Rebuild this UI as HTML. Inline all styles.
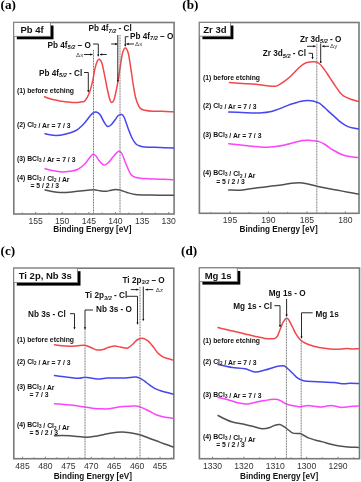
<!DOCTYPE html>
<html><head><meta charset="utf-8"><style>
html,body{margin:0;padding:0;background:#fff;width:361px;height:482px;overflow:hidden}
svg{display:block} text{-webkit-font-smoothing:antialiased} body{-webkit-font-smoothing:antialiased}
</style></head><body>
<svg style="will-change:transform" width="361" height="482" viewBox="0 0 361 482">
<rect width="361" height="482" fill="#fff"/>
<text x="0.5" y="9.3" font-size="13.2" font-weight="bold" text-anchor="start" font-family="'Liberation Serif', serif" fill="#000" >(a)</text>
<rect x="13.8" y="22.5" width="160.29999999999998" height="191.5" fill="none" stroke="#7a7a7a" stroke-width="1.6"/>
<line x1="168.7" y1="214" x2="168.7" y2="212.0" stroke="#7a7a7a" stroke-width="0.9" />
<text x="168.7" y="223.7" font-size="8.6" font-weight="normal" text-anchor="middle" font-family="'Liberation Sans', sans-serif" fill="#333" >130</text>
<line x1="155.39" y1="214" x2="155.39" y2="212.6" stroke="#7a7a7a" stroke-width="0.9" />
<line x1="142.08" y1="214" x2="142.08" y2="212.0" stroke="#7a7a7a" stroke-width="0.9" />
<text x="142.08" y="223.7" font-size="8.6" font-weight="normal" text-anchor="middle" font-family="'Liberation Sans', sans-serif" fill="#333" >135</text>
<line x1="128.77" y1="214" x2="128.77" y2="212.6" stroke="#7a7a7a" stroke-width="0.9" />
<line x1="115.46" y1="214" x2="115.46" y2="212.0" stroke="#7a7a7a" stroke-width="0.9" />
<text x="115.46" y="223.7" font-size="8.6" font-weight="normal" text-anchor="middle" font-family="'Liberation Sans', sans-serif" fill="#333" >140</text>
<line x1="102.15" y1="214" x2="102.15" y2="212.6" stroke="#7a7a7a" stroke-width="0.9" />
<line x1="88.84" y1="214" x2="88.84" y2="212.0" stroke="#7a7a7a" stroke-width="0.9" />
<text x="88.84" y="223.7" font-size="8.6" font-weight="normal" text-anchor="middle" font-family="'Liberation Sans', sans-serif" fill="#333" >145</text>
<line x1="75.53" y1="214" x2="75.53" y2="212.6" stroke="#7a7a7a" stroke-width="0.9" />
<line x1="62.22" y1="214" x2="62.22" y2="212.0" stroke="#7a7a7a" stroke-width="0.9" />
<text x="62.22" y="223.7" font-size="8.6" font-weight="normal" text-anchor="middle" font-family="'Liberation Sans', sans-serif" fill="#333" >150</text>
<line x1="48.91" y1="214" x2="48.91" y2="212.6" stroke="#7a7a7a" stroke-width="0.9" />
<line x1="35.6" y1="214" x2="35.6" y2="212.0" stroke="#7a7a7a" stroke-width="0.9" />
<text x="35.6" y="223.7" font-size="8.6" font-weight="normal" text-anchor="middle" font-family="'Liberation Sans', sans-serif" fill="#333" >155</text>
<line x1="22.29" y1="214" x2="22.29" y2="212.6" stroke="#7a7a7a" stroke-width="0.9" />
<text x="53.3" y="232.1" font-size="8.2" font-weight="bold" text-anchor="start" font-family="'Liberation Sans', sans-serif" fill="#111" >Binding Energy [eV]</text>
<path d="M44.60 96.80 C45.50 97.13 48.27 98.27 50.00 98.80 C51.73 99.33 53.17 99.60 55.00 100.00 C56.83 100.40 58.92 100.87 61.00 101.20 C63.08 101.53 65.67 101.80 67.50 102.00 C69.33 102.20 70.33 102.32 72.00 102.40 C73.67 102.48 75.83 102.60 77.50 102.50 C79.17 102.40 80.75 102.08 82.00 101.80 C83.25 101.52 83.80 102.22 85.00 100.80 C86.20 99.38 87.95 96.48 89.20 93.30 C90.45 90.12 91.53 85.87 92.50 81.70 C93.47 77.53 94.17 71.78 95.00 68.30 C95.83 64.82 96.80 62.32 97.50 60.80 C98.20 59.28 98.50 58.92 99.20 59.20 C99.90 59.48 100.87 60.15 101.70 62.50 C102.53 64.85 103.23 68.72 104.20 73.30 C105.17 77.88 106.53 85.55 107.50 90.00 C108.47 94.45 109.30 97.92 110.00 100.00 C110.70 102.08 111.00 102.63 111.70 102.50 C112.40 102.37 113.23 102.25 114.20 99.20 C115.17 96.15 116.53 89.35 117.50 84.20 C118.47 79.05 119.17 73.45 120.00 68.30 C120.83 63.15 121.62 56.68 122.50 53.30 C123.38 49.92 124.33 48.00 125.30 48.00 C126.27 48.00 127.38 49.92 128.30 53.30 C129.22 56.68 129.97 63.02 130.80 68.30 C131.63 73.58 132.47 80.00 133.30 85.00 C134.13 90.00 134.68 94.47 135.80 98.30 C136.92 102.13 138.47 106.00 140.00 108.00 C141.53 110.00 142.92 109.75 145.00 110.30 C147.08 110.85 149.67 111.15 152.50 111.30 C155.33 111.45 158.50 111.12 162.00 111.20 C165.50 111.28 171.58 111.70 173.50 111.80" fill="none" stroke="#f2474b" stroke-width="1.5" stroke-linejoin="round" stroke-linecap="round"/>
<path d="M45.00 133.70 C45.83 133.88 48.17 134.50 50.00 134.80 C51.83 135.10 53.50 135.60 56.00 135.50 C58.50 135.40 61.83 134.95 65.00 134.20 C68.17 133.45 72.50 132.12 75.00 131.00 C77.50 129.88 78.33 128.92 80.00 127.50 C81.67 126.08 83.33 124.42 85.00 122.50 C86.67 120.58 88.67 117.58 90.00 116.00 C91.33 114.42 91.97 113.67 93.00 113.00 C94.03 112.33 95.03 111.75 96.20 112.00 C97.37 112.25 98.70 112.83 100.00 114.50 C101.30 116.17 102.75 120.00 104.00 122.00 C105.25 124.00 106.33 126.00 107.50 126.50 C108.67 127.00 109.75 126.08 111.00 125.00 C112.25 123.92 113.83 121.53 115.00 120.00 C116.17 118.47 116.97 116.72 118.00 115.80 C119.03 114.88 120.20 114.30 121.20 114.50 C122.20 114.70 122.75 114.42 124.00 117.00 C125.25 119.58 127.37 126.50 128.70 130.00 C130.03 133.50 130.78 135.67 132.00 138.00 C133.22 140.33 134.67 142.67 136.00 144.00 C137.33 145.33 138.50 145.50 140.00 146.00 C141.50 146.50 141.67 146.75 145.00 147.00 C148.33 147.25 155.25 147.33 160.00 147.50 C164.75 147.67 171.25 147.92 173.50 148.00" fill="none" stroke="#4646f0" stroke-width="1.5" stroke-linejoin="round" stroke-linecap="round"/>
<path d="M45.00 168.70 C46.67 169.08 52.08 170.45 55.00 171.00 C57.92 171.55 60.00 171.97 62.50 172.00 C65.00 172.03 67.50 171.62 70.00 171.20 C72.50 170.78 75.00 170.75 77.50 169.50 C80.00 168.25 83.08 165.53 85.00 163.70 C86.92 161.87 87.67 160.07 89.00 158.50 C90.33 156.93 91.83 154.72 93.00 154.30 C94.17 153.88 95.00 154.97 96.00 156.00 C97.00 157.03 97.72 159.00 99.00 160.50 C100.28 162.00 102.20 164.58 103.70 165.00 C105.20 165.42 106.45 164.33 108.00 163.00 C109.55 161.67 111.22 158.97 113.00 157.00 C114.78 155.03 117.20 151.70 118.70 151.20 C120.20 150.70 120.78 151.87 122.00 154.00 C123.22 156.13 124.50 160.58 126.00 164.00 C127.50 167.42 129.33 172.25 131.00 174.50 C132.67 176.75 133.88 176.83 136.00 177.50 C138.12 178.17 139.70 178.22 143.70 178.50 C147.70 178.78 155.03 179.00 160.00 179.20 C164.97 179.40 171.25 179.62 173.50 179.70" fill="none" stroke="#fb45fb" stroke-width="1.5" stroke-linejoin="round" stroke-linecap="round"/>
<path d="M45.00 190.00 C46.17 190.25 49.50 191.08 52.00 191.50 C54.50 191.92 56.67 192.42 60.00 192.50 C63.33 192.58 67.83 192.33 72.00 192.00 C76.17 191.67 81.37 190.87 85.00 190.50 C88.63 190.13 91.30 189.75 93.80 189.80 C96.30 189.85 97.92 190.55 100.00 190.80 C102.08 191.05 104.47 191.40 106.30 191.30 C108.13 191.20 109.47 190.52 111.00 190.20 C112.53 189.88 114.00 189.43 115.50 189.40 C117.00 189.37 118.08 189.48 120.00 190.00 C121.92 190.52 124.43 191.77 127.00 192.50 C129.57 193.23 131.57 193.98 135.40 194.40 C139.23 194.82 143.65 194.85 150.00 195.00 C156.35 195.15 169.58 195.25 173.50 195.30" fill="none" stroke="#505050" stroke-width="1.5" stroke-linejoin="round" stroke-linecap="round"/>
<line x1="93.5" y1="50" x2="93.5" y2="214" stroke="#6e6e6e" stroke-width="1.0" stroke-dasharray="1 0.6"/>
<line x1="120" y1="35" x2="120" y2="214" stroke="#6e6e6e" stroke-width="1.0" stroke-dasharray="1 0.6"/>
<text x="17" y="92.5" font-size="6.8" font-weight="bold" text-anchor="start" font-family="'Liberation Sans', sans-serif" fill="#111" >(1) before etching</text>
<text x="17" y="127" font-size="6.8" font-weight="bold" text-anchor="start" font-family="'Liberation Sans', sans-serif" fill="#111" >(2) Cl<tspan font-size="4.6" dy="1.3">2</tspan><tspan dy="-1.3"></tspan> / Ar = 7 / 3</text>
<text x="17" y="160.5" font-size="6.8" font-weight="bold" text-anchor="start" font-family="'Liberation Sans', sans-serif" fill="#111" >(3) BCl<tspan font-size="4.6" dy="1.3">3</tspan><tspan dy="-1.3"></tspan> / Ar = 7 / 3</text>
<text x="17" y="179.5" font-size="6.8" font-weight="bold" text-anchor="start" font-family="'Liberation Sans', sans-serif" fill="#111" >(4) BCl<tspan font-size="4.6" dy="1.3">3</tspan><tspan dy="-1.3"></tspan> / Cl<tspan font-size="4.6" dy="1.3">2</tspan><tspan dy="-1.3"></tspan> / Ar</text>
<text x="30.5" y="187.5" font-size="6.8" font-weight="bold" text-anchor="start" font-family="'Liberation Sans', sans-serif" fill="#111" >= 5 / 2 / 3</text>
<rect x="16.8" y="25.5" width="36.7" height="13.799999999999997" fill="#000"/>
<rect x="13.8" y="22.5" width="36.7" height="13.799999999999997" fill="#fff" stroke="#7a7a7a" stroke-width="0.8"/>
<text x="20.5" y="33.1" font-size="9.5" font-weight="bold" text-anchor="start" font-family="'Liberation Sans', sans-serif" fill="#111" >Pb 4f</text>
<text x="47.5" y="47.5" font-size="8.2" font-weight="bold" text-anchor="start" font-family="'Liberation Sans', sans-serif" fill="#111" >Pb 4f<tspan font-size="5.6" font-style="italic" dy="1.3">5/2</tspan><tspan dy="-1.3"> </tspan>– O</text>
<path d="M93.00 44.00 L98.30 44.00 L98.30 56.00" fill="none" stroke="#111" stroke-width="0.9"/>
<path d="M98.3 56.8 L97.2 54.6 L99.39999999999999 54.6 Z" fill="#111"/>
<text x="76" y="56.5" font-size="6.2" font-weight="normal" text-anchor="start" font-family="'Liberation Sans', sans-serif" fill="#3a3a3a" >Δx</text>
<line x1="84" y1="54.5" x2="92.5" y2="54.5" stroke="#111" stroke-width="0.9" />
<path d="M92.5 54.5 L90.3 53.3 L90.3 55.7 Z" fill="#111"/>
<line x1="106.7" y1="54.5" x2="100" y2="54.5" stroke="#111" stroke-width="0.9" />
<path d="M100 54.5 L102.2 53.3 L102.2 55.7 Z" fill="#111"/>
<text x="39" y="75.8" font-size="8.2" font-weight="bold" text-anchor="start" font-family="'Liberation Sans', sans-serif" fill="#111" >Pb 4f<tspan font-size="5.6" font-style="italic" dy="1.3">5/2</tspan><tspan dy="-1.3"> </tspan>- Cl</text>
<path d="M84.00 72.50 L88.30 72.50 L88.30 91.60" fill="none" stroke="#111" stroke-width="0.9"/>
<path d="M88.3 92.39999999999999 L87.2 90.19999999999999 L89.39999999999999 90.19999999999999 Z" fill="#111"/>
<text x="88.5" y="31.4" font-size="8.2" font-weight="bold" text-anchor="start" font-family="'Liberation Sans', sans-serif" fill="#111" >Pb 4f<tspan font-size="5.6" font-style="italic" dy="1.3">7/2</tspan><tspan dy="-1.3"> </tspan>- Cl</text>
<line x1="117.8" y1="35" x2="117.8" y2="80.5" stroke="#111" stroke-width="0.9" />
<circle cx="117.8" cy="80.8" r="0.9" fill="#111"/>
<line x1="111.2" y1="44" x2="117.3" y2="44" stroke="#111" stroke-width="0.9" />
<path d="M117.3 44 L115.1 42.8 L115.1 45.2 Z" fill="#111"/>
<text x="130" y="38.7" font-size="8.2" font-weight="bold" text-anchor="start" font-family="'Liberation Sans', sans-serif" fill="#111" >Pb 4f<tspan font-size="5.6" font-style="italic" dy="1.3">7/2</tspan><tspan dy="-1.3"> </tspan>– O</text>
<path d="M128.50 36.70 L125.30 36.70 L125.30 46.00" fill="none" stroke="#111" stroke-width="0.9"/>
<path d="M125.3 46.8 L124.2 44.6 L126.39999999999999 44.6 Z" fill="#111"/>
<line x1="134" y1="44" x2="126.5" y2="44" stroke="#111" stroke-width="0.9" />
<path d="M126.5 44 L128.7 42.8 L128.7 45.2 Z" fill="#111"/>
<text x="135" y="46.3" font-size="6.2" font-weight="normal" text-anchor="start" font-family="'Liberation Sans', sans-serif" fill="#3a3a3a" >Δx</text>
<text x="182.3" y="9.3" font-size="13.2" font-weight="bold" text-anchor="start" font-family="'Liberation Serif', serif" fill="#000" >(b)</text>
<rect x="199.4" y="22.5" width="159.6" height="190.8" fill="none" stroke="#7a7a7a" stroke-width="1.6"/>
<line x1="345.35" y1="213.3" x2="345.35" y2="211.3" stroke="#7a7a7a" stroke-width="0.9" />
<text x="345.35" y="223.3" font-size="8.6" font-weight="normal" text-anchor="middle" font-family="'Liberation Sans', sans-serif" fill="#333" >180</text>
<line x1="326.12" y1="213.3" x2="326.12" y2="211.9" stroke="#7a7a7a" stroke-width="0.9" />
<line x1="306.9" y1="213.3" x2="306.9" y2="211.3" stroke="#7a7a7a" stroke-width="0.9" />
<text x="306.9" y="223.3" font-size="8.6" font-weight="normal" text-anchor="middle" font-family="'Liberation Sans', sans-serif" fill="#333" >185</text>
<line x1="287.68" y1="213.3" x2="287.68" y2="211.9" stroke="#7a7a7a" stroke-width="0.9" />
<line x1="268.45" y1="213.3" x2="268.45" y2="211.3" stroke="#7a7a7a" stroke-width="0.9" />
<text x="268.45" y="223.3" font-size="8.6" font-weight="normal" text-anchor="middle" font-family="'Liberation Sans', sans-serif" fill="#333" >190</text>
<line x1="249.22" y1="213.3" x2="249.22" y2="211.9" stroke="#7a7a7a" stroke-width="0.9" />
<line x1="230.0" y1="213.3" x2="230.0" y2="211.3" stroke="#7a7a7a" stroke-width="0.9" />
<text x="230.0" y="223.3" font-size="8.6" font-weight="normal" text-anchor="middle" font-family="'Liberation Sans', sans-serif" fill="#333" >195</text>
<line x1="210.78" y1="213.3" x2="210.78" y2="211.9" stroke="#7a7a7a" stroke-width="0.9" />
<text x="239.5" y="231.6" font-size="8.2" font-weight="bold" text-anchor="start" font-family="'Liberation Sans', sans-serif" fill="#111" >Binding Energy [eV]</text>
<path d="M229.50 82.50 C231.75 82.67 238.33 83.17 243.00 83.50 C247.67 83.83 253.83 84.17 257.50 84.50 C261.17 84.83 262.08 85.22 265.00 85.50 C267.92 85.78 272.50 86.42 275.00 86.20 C277.50 85.98 278.33 85.10 280.00 84.20 C281.67 83.30 283.33 82.05 285.00 80.80 C286.67 79.55 288.33 78.22 290.00 76.70 C291.67 75.18 293.33 73.37 295.00 71.70 C296.67 70.03 298.33 68.10 300.00 66.70 C301.67 65.30 303.33 64.08 305.00 63.30 C306.67 62.52 308.47 62.25 310.00 62.00 C311.53 61.75 312.67 61.55 314.20 61.80 C315.73 62.05 317.55 62.28 319.20 63.50 C320.85 64.72 322.33 66.75 324.10 69.10 C325.87 71.45 327.92 74.77 329.80 77.60 C331.68 80.43 333.63 83.52 335.40 86.10 C337.17 88.68 338.98 91.42 340.40 93.10 C341.82 94.78 342.38 95.25 343.90 96.20 C345.42 97.15 347.07 97.90 349.50 98.80 C351.93 99.70 357.00 101.13 358.50 101.60" fill="none" stroke="#f2474b" stroke-width="1.5" stroke-linejoin="round" stroke-linecap="round"/>
<path d="M228.70 112.00 C230.92 112.08 237.62 112.33 242.00 112.50 C246.38 112.67 251.67 112.95 255.00 113.00 C258.33 113.05 259.50 113.02 262.00 112.80 C264.50 112.58 267.67 112.17 270.00 111.70 C272.33 111.23 273.90 110.68 276.00 110.00 C278.10 109.32 280.27 108.52 282.60 107.60 C284.93 106.68 287.90 105.27 290.00 104.50 C292.10 103.73 293.53 103.50 295.20 103.00 C296.87 102.50 297.90 101.92 300.00 101.50 C302.10 101.08 305.63 100.58 307.80 100.50 C309.97 100.42 311.63 100.75 313.00 101.00 C314.37 101.25 314.83 101.57 316.00 102.00 C317.17 102.43 318.50 102.60 320.00 103.60 C321.50 104.60 323.33 106.50 325.00 108.00 C326.67 109.50 328.33 111.08 330.00 112.60 C331.67 114.12 333.33 115.58 335.00 117.10 C336.67 118.62 338.58 120.52 340.00 121.70 C341.42 122.88 342.17 123.38 343.50 124.20 C344.83 125.02 346.42 125.95 348.00 126.60 C349.58 127.25 351.25 127.70 353.00 128.10 C354.75 128.50 357.58 128.85 358.50 129.00" fill="none" stroke="#4646f0" stroke-width="1.5" stroke-linejoin="round" stroke-linecap="round"/>
<path d="M228.70 143.70 C231.42 144.00 239.78 144.95 245.00 145.50 C250.22 146.05 256.17 146.70 260.00 147.00 C263.83 147.30 265.50 147.38 268.00 147.30 C270.50 147.22 272.17 146.88 275.00 146.50 C277.83 146.12 281.22 145.82 285.00 145.00 C288.78 144.18 294.70 142.35 297.70 141.60 C300.70 140.85 301.12 140.72 303.00 140.50 C304.88 140.28 307.17 140.25 309.00 140.30 C310.83 140.35 312.32 140.58 314.00 140.80 C315.68 141.02 317.27 140.98 319.10 141.60 C320.93 142.22 322.68 143.10 325.00 144.50 C327.32 145.90 330.00 148.25 333.00 150.00 C336.00 151.75 340.17 153.92 343.00 155.00 C345.83 156.08 347.42 156.07 350.00 156.50 C352.58 156.93 357.08 157.42 358.50 157.60" fill="none" stroke="#fb45fb" stroke-width="1.5" stroke-linejoin="round" stroke-linecap="round"/>
<path d="M228.70 190.00 C231.00 190.00 237.28 190.42 242.50 190.00 C247.72 189.58 255.42 188.12 260.00 187.50 C264.58 186.88 266.23 186.75 270.00 186.30 C273.77 185.85 279.27 185.27 282.60 184.80 C285.93 184.33 287.27 183.85 290.00 183.50 C292.73 183.15 296.03 182.62 299.00 182.70 C301.97 182.78 304.65 183.37 307.80 184.00 C310.95 184.63 314.53 185.75 317.90 186.50 C321.27 187.25 324.65 187.87 328.00 188.50 C331.35 189.13 334.67 189.68 338.00 190.30 C341.33 190.92 344.58 191.58 348.00 192.20 C351.42 192.82 356.75 193.70 358.50 194.00" fill="none" stroke="#505050" stroke-width="1.5" stroke-linejoin="round" stroke-linecap="round"/>
<line x1="316.8" y1="43.7" x2="316.8" y2="213.3" stroke="#6e6e6e" stroke-width="1.0" stroke-dasharray="1 0.6"/>
<text x="203" y="79.5" font-size="6.8" font-weight="bold" text-anchor="start" font-family="'Liberation Sans', sans-serif" fill="#111" >(1) before etching</text>
<text x="203" y="107.7" font-size="6.8" font-weight="bold" text-anchor="start" font-family="'Liberation Sans', sans-serif" fill="#111" >(2) Cl<tspan font-size="4.6" dy="1.3">2</tspan><tspan dy="-1.3"></tspan> / Ar = 7 / 3</text>
<text x="203" y="136.8" font-size="6.8" font-weight="bold" text-anchor="start" font-family="'Liberation Sans', sans-serif" fill="#111" >(3) BCl<tspan font-size="4.6" dy="1.3">3</tspan><tspan dy="-1.3"></tspan> / Ar = 7 / 3</text>
<text x="203" y="175" font-size="6.8" font-weight="bold" text-anchor="start" font-family="'Liberation Sans', sans-serif" fill="#111" >(4) BCl<tspan font-size="4.6" dy="1.3">3</tspan><tspan dy="-1.3"></tspan> / Cl<tspan font-size="4.6" dy="1.3">2</tspan><tspan dy="-1.3"></tspan> / Ar</text>
<text x="216.2" y="183.8" font-size="6.8" font-weight="bold" text-anchor="start" font-family="'Liberation Sans', sans-serif" fill="#111" >= 5 / 2 / 3</text>
<rect x="202.4" y="25.5" width="31.0" height="13.700000000000003" fill="#000"/>
<rect x="199.4" y="22.5" width="31.0" height="13.700000000000003" fill="#fff" stroke="#7a7a7a" stroke-width="0.8"/>
<text x="203.3" y="33.3" font-size="9.5" font-weight="bold" text-anchor="start" font-family="'Liberation Sans', sans-serif" fill="#111" >Zr 3d</text>
<text x="300" y="41.5" font-size="8.2" font-weight="bold" text-anchor="start" font-family="'Liberation Sans', sans-serif" fill="#111" >Zr 3d<tspan font-size="5.6" font-style="italic" dy="1.3">5/2</tspan><tspan dy="-1.3"> </tspan>- O</text>
<text x="262.7" y="56.3" font-size="8.2" font-weight="bold" text-anchor="start" font-family="'Liberation Sans', sans-serif" fill="#111" >Zr 3d<tspan font-size="5.6" font-style="italic" dy="1.3">5/2</tspan><tspan dy="-1.3"> </tspan>- Cl</text>
<path d="M308.70 53.30 L312.50 53.30 L312.50 58.50" fill="none" stroke="#111" stroke-width="0.9"/>
<path d="M312.5 59.3 L311.4 57.1 L313.6 57.1 Z" fill="#111"/>
<line x1="307" y1="46.3" x2="315.5" y2="46.3" stroke="#111" stroke-width="0.9" />
<path d="M315.5 46.3 L313.3 45.099999999999994 L313.3 47.5 Z" fill="#111"/>
<line x1="320.7" y1="43.5" x2="320.7" y2="61.8" stroke="#111" stroke-width="0.9" />
<circle cx="320.7" cy="62" r="0.9" fill="#111"/>
<line x1="329" y1="46.3" x2="322.3" y2="46.3" stroke="#111" stroke-width="0.9" />
<path d="M322.3 46.3 L324.5 45.099999999999994 L324.5 47.5 Z" fill="#111"/>
<text x="330" y="48.3" font-size="6.2" font-weight="normal" text-anchor="start" font-family="'Liberation Sans', sans-serif" fill="#3a3a3a" >Δy</text>
<text x="0.5" y="255" font-size="13.2" font-weight="bold" text-anchor="start" font-family="'Liberation Serif', serif" fill="#000" >(c)</text>
<rect x="13.8" y="268.2" width="160.0" height="190.5" fill="none" stroke="#7a7a7a" stroke-width="1.6"/>
<line x1="171.45" y1="458.7" x2="171.45" y2="457.3" stroke="#7a7a7a" stroke-width="0.9" />
<line x1="159.99" y1="458.7" x2="159.99" y2="456.7" stroke="#7a7a7a" stroke-width="0.9" />
<text x="159.99" y="468.9" font-size="8.6" font-weight="normal" text-anchor="middle" font-family="'Liberation Sans', sans-serif" fill="#333" >455</text>
<line x1="148.53" y1="458.7" x2="148.53" y2="457.3" stroke="#7a7a7a" stroke-width="0.9" />
<line x1="137.07" y1="458.7" x2="137.07" y2="456.7" stroke="#7a7a7a" stroke-width="0.9" />
<text x="137.07" y="468.9" font-size="8.6" font-weight="normal" text-anchor="middle" font-family="'Liberation Sans', sans-serif" fill="#333" >460</text>
<line x1="125.62" y1="458.7" x2="125.62" y2="457.3" stroke="#7a7a7a" stroke-width="0.9" />
<line x1="114.16" y1="458.7" x2="114.16" y2="456.7" stroke="#7a7a7a" stroke-width="0.9" />
<text x="114.16" y="468.9" font-size="8.6" font-weight="normal" text-anchor="middle" font-family="'Liberation Sans', sans-serif" fill="#333" >465</text>
<line x1="102.7" y1="458.7" x2="102.7" y2="457.3" stroke="#7a7a7a" stroke-width="0.9" />
<line x1="91.25" y1="458.7" x2="91.25" y2="456.7" stroke="#7a7a7a" stroke-width="0.9" />
<text x="91.25" y="468.9" font-size="8.6" font-weight="normal" text-anchor="middle" font-family="'Liberation Sans', sans-serif" fill="#333" >470</text>
<line x1="79.79" y1="458.7" x2="79.79" y2="457.3" stroke="#7a7a7a" stroke-width="0.9" />
<line x1="68.33" y1="458.7" x2="68.33" y2="456.7" stroke="#7a7a7a" stroke-width="0.9" />
<text x="68.33" y="468.9" font-size="8.6" font-weight="normal" text-anchor="middle" font-family="'Liberation Sans', sans-serif" fill="#333" >475</text>
<line x1="56.87" y1="458.7" x2="56.87" y2="457.3" stroke="#7a7a7a" stroke-width="0.9" />
<line x1="45.41" y1="458.7" x2="45.41" y2="456.7" stroke="#7a7a7a" stroke-width="0.9" />
<text x="45.41" y="468.9" font-size="8.6" font-weight="normal" text-anchor="middle" font-family="'Liberation Sans', sans-serif" fill="#333" >480</text>
<line x1="33.96" y1="458.7" x2="33.96" y2="457.3" stroke="#7a7a7a" stroke-width="0.9" />
<line x1="22.5" y1="458.7" x2="22.5" y2="456.7" stroke="#7a7a7a" stroke-width="0.9" />
<text x="22.5" y="468.9" font-size="8.6" font-weight="normal" text-anchor="middle" font-family="'Liberation Sans', sans-serif" fill="#333" >485</text>
<text x="53.7" y="479.4" font-size="8.2" font-weight="bold" text-anchor="start" font-family="'Liberation Sans', sans-serif" fill="#111" >Binding Energy [eV]</text>
<path d="M54.50 344.80 C55.75 344.97 59.58 345.57 62.00 345.80 C64.42 346.03 66.50 346.20 69.00 346.20 C71.50 346.20 74.40 345.97 77.00 345.80 C79.60 345.63 82.27 344.92 84.60 345.20 C86.93 345.48 88.93 346.70 91.00 347.50 C93.07 348.30 95.00 349.67 97.00 350.00 C99.00 350.33 101.17 349.92 103.00 349.50 C104.83 349.08 106.10 348.07 108.00 347.50 C109.90 346.93 112.40 346.18 114.40 346.10 C116.40 346.02 117.97 346.63 120.00 347.00 C122.03 347.37 124.93 348.38 126.60 348.30 C128.27 348.22 128.88 347.25 130.00 346.50 C131.12 345.75 132.13 344.88 133.30 343.80 C134.47 342.72 135.53 340.92 137.00 340.00 C138.47 339.08 140.68 338.42 142.10 338.30 C143.52 338.18 144.38 338.75 145.50 339.30 C146.62 339.85 147.55 340.40 148.80 341.60 C150.05 342.80 151.53 344.65 153.00 346.50 C154.47 348.35 156.10 351.07 157.60 352.70 C159.10 354.33 160.52 355.37 162.00 356.30 C163.48 357.23 164.63 357.68 166.50 358.30 C168.37 358.92 172.08 359.72 173.20 360.00" fill="none" stroke="#f2474b" stroke-width="1.5" stroke-linejoin="round" stroke-linecap="round"/>
<path d="M54.50 375.50 C55.75 375.67 59.42 376.17 62.00 376.50 C64.58 376.83 67.20 377.20 70.00 377.50 C72.80 377.80 76.30 378.33 78.80 378.30 C81.30 378.27 82.80 377.30 85.00 377.30 C87.20 377.30 89.50 378.02 92.00 378.30 C94.50 378.58 97.53 379.03 100.00 379.00 C102.47 378.97 104.30 378.27 106.80 378.10 C109.30 377.93 112.27 378.00 115.00 378.00 C117.73 378.00 120.70 378.18 123.20 378.10 C125.70 378.02 127.83 377.68 130.00 377.50 C132.17 377.32 134.20 376.70 136.20 377.00 C138.20 377.30 140.20 378.30 142.00 379.30 C143.80 380.30 145.03 381.58 147.00 383.00 C148.97 384.42 151.63 386.55 153.80 387.80 C155.97 389.05 157.97 389.75 160.00 390.50 C162.03 391.25 163.83 391.70 166.00 392.30 C168.17 392.90 171.83 393.80 173.00 394.10" fill="none" stroke="#4646f0" stroke-width="1.5" stroke-linejoin="round" stroke-linecap="round"/>
<path d="M54.50 403.70 C55.75 403.80 59.42 404.08 62.00 404.30 C64.58 404.52 67.33 404.72 70.00 405.00 C72.67 405.28 75.50 405.67 78.00 406.00 C80.50 406.33 82.17 406.58 85.00 407.00 C87.83 407.42 92.50 408.20 95.00 408.50 C97.50 408.80 97.65 408.75 100.00 408.80 C102.35 408.85 106.43 409.02 109.10 408.80 C111.77 408.58 113.65 407.88 116.00 407.50 C118.35 407.12 120.87 406.72 123.20 406.50 C125.53 406.28 127.83 406.28 130.00 406.20 C132.17 406.12 134.20 405.77 136.20 406.00 C138.20 406.23 139.87 406.77 142.00 407.60 C144.13 408.43 146.63 409.82 149.00 411.00 C151.37 412.18 153.70 413.70 156.20 414.70 C158.70 415.70 161.20 416.42 164.00 417.00 C166.80 417.58 171.50 418.00 173.00 418.20" fill="none" stroke="#fb45fb" stroke-width="1.5" stroke-linejoin="round" stroke-linecap="round"/>
<path d="M54.50 435.80 C55.75 435.75 59.42 435.50 62.00 435.50 C64.58 435.50 67.33 435.62 70.00 435.80 C72.67 435.98 75.33 436.37 78.00 436.60 C80.67 436.83 83.17 437.25 86.00 437.20 C88.83 437.15 91.83 436.80 95.00 436.30 C98.17 435.80 101.67 434.82 105.00 434.20 C108.33 433.58 112.17 432.98 115.00 432.60 C117.83 432.22 119.50 431.87 122.00 431.90 C124.50 431.93 127.05 432.32 130.00 432.80 C132.95 433.28 136.70 433.97 139.70 434.80 C142.70 435.63 145.25 436.80 148.00 437.80 C150.75 438.80 153.53 439.80 156.20 440.80 C158.87 441.80 161.20 442.77 164.00 443.80 C166.80 444.83 171.50 446.47 173.00 447.00" fill="none" stroke="#505050" stroke-width="1.5" stroke-linejoin="round" stroke-linecap="round"/>
<line x1="85" y1="329" x2="85" y2="458.7" stroke="#6e6e6e" stroke-width="1.0" stroke-dasharray="1 0.6"/>
<line x1="140" y1="287" x2="140" y2="458.7" stroke="#6e6e6e" stroke-width="1.0" stroke-dasharray="1 0.6"/>
<text x="17" y="341.8" font-size="6.8" font-weight="bold" text-anchor="start" font-family="'Liberation Sans', sans-serif" fill="#111" >(1) before etching</text>
<text x="17" y="363.7" font-size="6.8" font-weight="bold" text-anchor="start" font-family="'Liberation Sans', sans-serif" fill="#111" >(2) Cl<tspan font-size="4.6" dy="1.3">2</tspan><tspan dy="-1.3"></tspan> / Ar = 7 / 3</text>
<text x="17" y="388.7" font-size="6.8" font-weight="bold" text-anchor="start" font-family="'Liberation Sans', sans-serif" fill="#111" >(3) BCl<tspan font-size="4.6" dy="1.3">3</tspan><tspan dy="-1.3"></tspan> / Ar</text>
<text x="29.5" y="397" font-size="6.8" font-weight="bold" text-anchor="start" font-family="'Liberation Sans', sans-serif" fill="#111" >= 7 / 3</text>
<text x="17" y="427" font-size="6.8" font-weight="bold" text-anchor="start" font-family="'Liberation Sans', sans-serif" fill="#111" >(4) BCl<tspan font-size="4.6" dy="1.3">3</tspan><tspan dy="-1.3"></tspan> / Cl<tspan font-size="4.6" dy="1.3">2</tspan><tspan dy="-1.3"></tspan> / Ar</text>
<text x="29.5" y="435" font-size="6.8" font-weight="bold" text-anchor="start" font-family="'Liberation Sans', sans-serif" fill="#111" >= 5 / 2 / 3</text>
<rect x="16.8" y="271.2" width="63.7" height="14.400000000000034" fill="#000"/>
<rect x="13.8" y="268.2" width="63.7" height="14.400000000000034" fill="#fff" stroke="#7a7a7a" stroke-width="0.8"/>
<text x="18.7" y="278.7" font-size="9.5" font-weight="bold" text-anchor="start" font-family="'Liberation Sans', sans-serif" fill="#111" >Ti 2p, Nb 3s</text>
<text x="122.5" y="283" font-size="8.2" font-weight="bold" text-anchor="start" font-family="'Liberation Sans', sans-serif" fill="#111" >Ti 2p<tspan font-size="5.6" font-style="italic" dy="1.3">3/2</tspan><tspan dy="-1.3"> </tspan>– O</text>
<line x1="130.8" y1="289.6" x2="138.5" y2="289.6" stroke="#111" stroke-width="0.9" />
<path d="M138.5 289.6 L136.3 288.40000000000003 L136.3 290.8 Z" fill="#111"/>
<line x1="143.3" y1="286.7" x2="143.3" y2="319.5" stroke="#111" stroke-width="0.9" />
<circle cx="143.3" cy="319.7" r="0.9" fill="#111"/>
<line x1="153.3" y1="289.6" x2="145.5" y2="289.6" stroke="#111" stroke-width="0.9" />
<path d="M145.5 289.6 L147.7 288.40000000000003 L147.7 290.8 Z" fill="#111"/>
<text x="155.8" y="291.8" font-size="6.2" font-weight="normal" text-anchor="start" font-family="'Liberation Sans', sans-serif" fill="#3a3a3a" >Δz</text>
<text x="85" y="298.3" font-size="8.2" font-weight="bold" text-anchor="start" font-family="'Liberation Sans', sans-serif" fill="#111" >Ti 2p<tspan font-size="5.6" font-style="italic" dy="1.3">3/2</tspan><tspan dy="-1.3"> </tspan>- Cl</text>
<path d="M126.70 296.30 L137.50 296.30 L137.50 324.00" fill="none" stroke="#111" stroke-width="0.9"/>
<path d="M137.5 324.8 L136.4 322.6 L138.6 322.6 Z" fill="#111"/>
<text x="96" y="312" font-size="8.2" font-weight="bold" text-anchor="start" font-family="'Liberation Sans', sans-serif" fill="#111" >Nb 3s - O</text>
<path d="M93.00 310.00 L85.00 310.00 L85.00 328.70" fill="none" stroke="#111" stroke-width="0.9"/>
<path d="M85 329.5 L83.9 327.3 L86.1 327.3 Z" fill="#111"/>
<text x="28" y="317" font-size="8.2" font-weight="bold" text-anchor="start" font-family="'Liberation Sans', sans-serif" fill="#111" >Nb 3s - Cl</text>
<path d="M70.00 313.70 L74.50 313.70 L74.50 328.70" fill="none" stroke="#111" stroke-width="0.9"/>
<path d="M74.5 329.5 L73.4 327.3 L75.6 327.3 Z" fill="#111"/>
<text x="181" y="255" font-size="13.2" font-weight="bold" text-anchor="start" font-family="'Liberation Serif', serif" fill="#000" >(d)</text>
<rect x="199.4" y="268" width="160.1" height="190.7" fill="none" stroke="#7a7a7a" stroke-width="1.6"/>
<line x1="353.69" y1="458.7" x2="353.69" y2="457.3" stroke="#7a7a7a" stroke-width="0.9" />
<line x1="338.0" y1="458.7" x2="338.0" y2="456.7" stroke="#7a7a7a" stroke-width="0.9" />
<text x="338.0" y="468.9" font-size="8.6" font-weight="normal" text-anchor="middle" font-family="'Liberation Sans', sans-serif" fill="#333" >1290</text>
<line x1="322.31" y1="458.7" x2="322.31" y2="457.3" stroke="#7a7a7a" stroke-width="0.9" />
<line x1="306.62" y1="458.7" x2="306.62" y2="456.7" stroke="#7a7a7a" stroke-width="0.9" />
<text x="306.62" y="468.9" font-size="8.6" font-weight="normal" text-anchor="middle" font-family="'Liberation Sans', sans-serif" fill="#333" >1300</text>
<line x1="290.94" y1="458.7" x2="290.94" y2="457.3" stroke="#7a7a7a" stroke-width="0.9" />
<line x1="275.25" y1="458.7" x2="275.25" y2="456.7" stroke="#7a7a7a" stroke-width="0.9" />
<text x="275.25" y="468.9" font-size="8.6" font-weight="normal" text-anchor="middle" font-family="'Liberation Sans', sans-serif" fill="#333" >1310</text>
<line x1="259.56" y1="458.7" x2="259.56" y2="457.3" stroke="#7a7a7a" stroke-width="0.9" />
<line x1="243.88" y1="458.7" x2="243.88" y2="456.7" stroke="#7a7a7a" stroke-width="0.9" />
<text x="243.88" y="468.9" font-size="8.6" font-weight="normal" text-anchor="middle" font-family="'Liberation Sans', sans-serif" fill="#333" >1320</text>
<line x1="228.19" y1="458.7" x2="228.19" y2="457.3" stroke="#7a7a7a" stroke-width="0.9" />
<line x1="212.5" y1="458.7" x2="212.5" y2="456.7" stroke="#7a7a7a" stroke-width="0.9" />
<text x="212.5" y="468.9" font-size="8.6" font-weight="normal" text-anchor="middle" font-family="'Liberation Sans', sans-serif" fill="#333" >1330</text>
<text x="240" y="479.2" font-size="8.2" font-weight="bold" text-anchor="start" font-family="'Liberation Sans', sans-serif" fill="#111" >Binding Energy [eV]</text>
<path d="M218.00 327.60 C219.17 327.88 222.58 328.73 225.00 329.30 C227.42 329.87 230.00 330.42 232.50 331.00 C235.00 331.58 237.25 332.17 240.00 332.80 C242.75 333.43 246.17 334.13 249.00 334.80 C251.83 335.47 254.33 336.20 257.00 336.80 C259.67 337.40 262.42 338.08 265.00 338.40 C267.58 338.72 270.83 338.70 272.50 338.70 C274.17 338.70 274.17 338.82 275.00 338.40 C275.83 337.98 276.70 337.57 277.50 336.20 C278.30 334.83 279.13 331.90 279.80 330.20 C280.47 328.50 280.92 327.38 281.50 326.00 C282.08 324.62 282.48 323.18 283.30 321.90 C284.12 320.62 285.53 318.70 286.40 318.30 C287.27 317.90 287.82 318.70 288.50 319.50 C289.18 320.30 289.75 321.68 290.50 323.10 C291.25 324.52 292.22 326.42 293.00 328.00 C293.78 329.58 294.37 331.10 295.20 332.60 C296.03 334.10 297.00 335.68 298.00 337.00 C299.00 338.32 300.03 339.50 301.20 340.50 C302.37 341.50 303.42 342.22 305.00 343.00 C306.58 343.78 308.87 344.57 310.70 345.20 C312.53 345.83 314.02 346.32 316.00 346.80 C317.98 347.28 320.27 347.73 322.60 348.10 C324.93 348.47 327.62 348.80 330.00 349.00 C332.38 349.20 334.17 349.37 336.90 349.30 C339.63 349.23 343.88 348.65 346.40 348.60 C348.92 348.55 349.98 348.97 352.00 349.00 C354.02 349.03 357.42 348.83 358.50 348.80" fill="none" stroke="#f2474b" stroke-width="1.5" stroke-linejoin="round" stroke-linecap="round"/>
<path d="M218.00 364.50 C219.17 364.75 222.58 365.50 225.00 366.00 C227.42 366.50 229.17 367.05 232.50 367.50 C235.83 367.95 241.25 367.95 245.00 368.70 C248.75 369.45 251.67 371.78 255.00 372.00 C258.33 372.22 261.67 370.83 265.00 370.00 C268.33 369.17 272.50 367.67 275.00 367.00 C277.50 366.33 278.42 366.17 280.00 366.00 C281.58 365.83 283.25 365.58 284.50 366.00 C285.75 366.42 286.50 367.63 287.50 368.50 C288.50 369.37 289.02 369.77 290.50 371.20 C291.98 372.63 294.82 375.75 296.40 377.10 C297.98 378.45 298.80 378.70 300.00 379.30 C301.20 379.90 301.60 380.33 303.60 380.70 C305.60 381.07 308.83 381.30 312.00 381.50 C315.17 381.70 318.93 381.72 322.60 381.90 C326.27 382.08 330.43 382.28 334.00 382.60 C337.57 382.92 341.33 383.70 344.00 383.80 C346.67 383.90 347.58 383.23 350.00 383.20 C352.42 383.17 357.08 383.53 358.50 383.60" fill="none" stroke="#4646f0" stroke-width="1.5" stroke-linejoin="round" stroke-linecap="round"/>
<path d="M218.00 397.40 C219.17 397.67 222.67 398.40 225.00 399.00 C227.33 399.60 229.83 400.37 232.00 401.00 C234.17 401.63 235.83 402.30 238.00 402.80 C240.17 403.30 242.83 403.90 245.00 404.00 C247.17 404.10 248.83 403.78 251.00 403.40 C253.17 403.02 255.67 402.18 258.00 401.70 C260.33 401.22 262.83 400.87 265.00 400.50 C267.17 400.13 268.92 399.67 271.00 399.50 C273.08 399.33 275.67 399.17 277.50 399.50 C279.33 399.83 280.52 400.75 282.00 401.50 C283.48 402.25 284.73 403.33 286.40 404.00 C288.07 404.67 289.93 405.05 292.00 405.50 C294.07 405.95 296.97 406.57 298.80 406.70 C300.63 406.83 301.42 406.50 303.00 406.30 C304.58 406.10 306.47 405.50 308.30 405.50 C310.13 405.50 312.02 406.03 314.00 406.30 C315.98 406.57 318.37 407.07 320.20 407.10 C322.03 407.13 323.20 406.77 325.00 406.50 C326.80 406.23 329.17 405.53 331.00 405.50 C332.83 405.47 334.22 405.98 336.00 406.30 C337.78 406.62 339.37 407.37 341.70 407.40 C344.03 407.43 347.20 406.73 350.00 406.50 C352.80 406.27 357.08 406.08 358.50 406.00" fill="none" stroke="#fb45fb" stroke-width="1.5" stroke-linejoin="round" stroke-linecap="round"/>
<path d="M218.00 415.50 C219.17 416.08 222.58 417.92 225.00 419.00 C227.42 420.08 229.17 421.08 232.50 422.00 C235.83 422.92 241.25 423.67 245.00 424.50 C248.75 425.33 252.08 426.30 255.00 427.00 C257.92 427.70 260.00 428.62 262.50 428.70 C265.00 428.78 267.92 428.08 270.00 427.50 C272.08 426.92 273.37 425.70 275.00 425.20 C276.63 424.70 278.22 424.22 279.80 424.50 C281.38 424.78 283.05 425.98 284.50 426.90 C285.95 427.82 287.10 428.97 288.50 430.00 C289.90 431.03 290.98 432.50 292.90 433.10 C294.82 433.70 298.15 433.20 300.00 433.60 C301.85 434.00 302.62 434.78 304.00 435.50 C305.38 436.22 306.47 437.15 308.30 437.90 C310.13 438.65 312.62 439.33 315.00 440.00 C317.38 440.67 320.10 441.23 322.60 441.90 C325.10 442.57 327.22 443.32 330.00 444.00 C332.78 444.68 336.30 445.50 339.30 446.00 C342.30 446.50 344.80 446.77 348.00 447.00 C351.20 447.23 356.75 447.33 358.50 447.40" fill="none" stroke="#505050" stroke-width="1.5" stroke-linejoin="round" stroke-linecap="round"/>
<line x1="286.4" y1="318" x2="286.4" y2="458.7" stroke="#6e6e6e" stroke-width="1.0" stroke-dasharray="1 0.6"/>
<line x1="301.2" y1="340" x2="301.2" y2="458.7" stroke="#6e6e6e" stroke-width="1.0" stroke-dasharray="1 0.6"/>
<text x="203" y="343" font-size="6.8" font-weight="bold" text-anchor="start" font-family="'Liberation Sans', sans-serif" fill="#111" >(1) before etching</text>
<text x="203" y="363.7" font-size="6.8" font-weight="bold" text-anchor="start" font-family="'Liberation Sans', sans-serif" fill="#111" >(2) Cl<tspan font-size="4.6" dy="1.3">2</tspan><tspan dy="-1.3"></tspan> / Ar = 7 / 3</text>
<text x="203" y="397" font-size="6.8" font-weight="bold" text-anchor="start" font-family="'Liberation Sans', sans-serif" fill="#111" >(3) BCl<tspan font-size="4.6" dy="1.3">3</tspan><tspan dy="-1.3"></tspan> / Ar = 7 / 3</text>
<text x="203" y="439" font-size="6.8" font-weight="bold" text-anchor="start" font-family="'Liberation Sans', sans-serif" fill="#111" >(4) BCl<tspan font-size="4.6" dy="1.3">3</tspan><tspan dy="-1.3"></tspan> / Cl<tspan font-size="4.6" dy="1.3">2</tspan><tspan dy="-1.3"></tspan> / Ar</text>
<text x="216.2" y="446.5" font-size="6.8" font-weight="bold" text-anchor="start" font-family="'Liberation Sans', sans-serif" fill="#111" >= 5 / 2 / 3</text>
<rect x="202.4" y="271" width="37.900000000000006" height="13.600000000000023" fill="#000"/>
<rect x="199.4" y="268" width="37.900000000000006" height="13.600000000000023" fill="#fff" stroke="#7a7a7a" stroke-width="0.8"/>
<text x="204.7" y="278.6" font-size="9.5" font-weight="bold" text-anchor="start" font-family="'Liberation Sans', sans-serif" fill="#111" >Mg 1s</text>
<text x="268.8" y="296.2" font-size="8.2" font-weight="bold" text-anchor="start" font-family="'Liberation Sans', sans-serif" fill="#111" >Mg 1s - O</text>
<line x1="286.6" y1="299" x2="286.6" y2="315" stroke="#111" stroke-width="0.9" />
<path d="M286.6 317 L285.4 314.4 L287.8 314.4 Z" fill="#111"/>
<text x="233.3" y="308.8" font-size="8.2" font-weight="bold" text-anchor="start" font-family="'Liberation Sans', sans-serif" fill="#111" >Mg 1s - Cl</text>
<path d="M274.40 305.70 L280.00 305.70 L280.00 326.50" fill="none" stroke="#111" stroke-width="0.9"/>
<path d="M280 327.3 L278.9 325.1 L281.1 325.1 Z" fill="#111"/>
<text x="315.5" y="316.5" font-size="8.2" font-weight="bold" text-anchor="start" font-family="'Liberation Sans', sans-serif" fill="#111" >Mg 1s</text>
<path d="M312.70 312.80 L301.50 312.80 L301.50 338.00" fill="none" stroke="#111" stroke-width="0.9"/>
<path d="M301.5 338.8 L300.4 336.6 L302.6 336.6 Z" fill="#111"/>
</svg>
</body></html>
